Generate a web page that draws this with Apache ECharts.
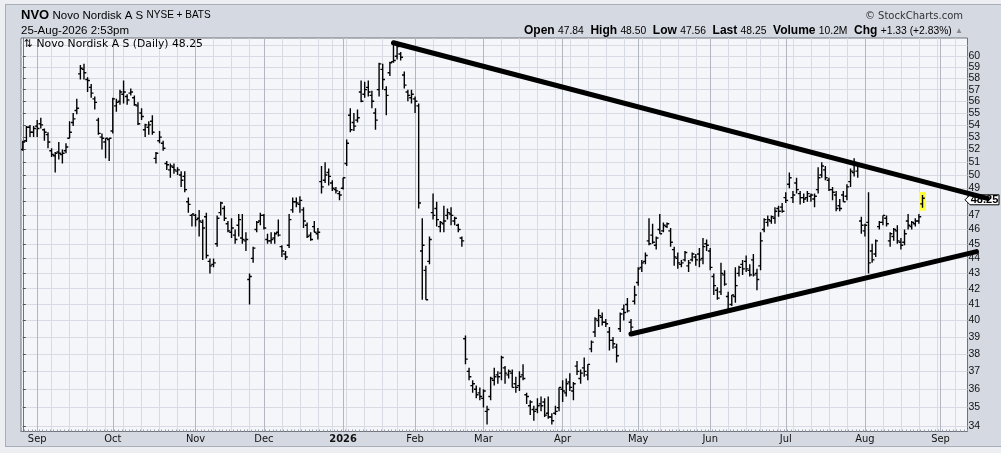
<!DOCTYPE html>
<html><head><meta charset="utf-8">
<script src="https://cdn.jsdelivr.net/npm/echarts@6/dist/echarts.min.js"></script>
<style>
html,body{margin:0;padding:0;background:#eceef2;overflow:hidden;}
#panel{position:absolute;left:5px;top:4px;width:996px;height:443px;background:#d5d9e2;border-left:1px solid #a9aeb9;border-top:1px solid #a9aeb9;border-bottom:1px solid #a9aeb9;box-sizing:border-box;}
#c{position:absolute;left:0;top:0;width:1001px;height:453px;}
</style>
</head><body><div id="panel"></div><div id="c"></div>
<script>
// ---------- data ----------
const START_DATE = '2025-08-26';
const HOLIDAYS = ['2025-09-01','2025-11-27','2025-12-25','2026-01-01','2026-01-19','2026-02-16','2026-04-03','2026-05-25','2026-06-19','2026-07-03','2026-09-07'];
const TOTAL_SLOTS = 263;
const MONTHS = ['Jan','Feb','Mar','Apr','May','Jun','Jul','Aug','Sep','Oct','Nov','Dec'];
const Y_TICKS = [34,35,36,37,38,39,40,41,42,43,44,45,46,47,48,49,50,51,52,53,54,55,56,57,58,59,60,61];
const Y_MIN = 33.74, Y_MAX = 61.7;

const opens = [
52.0,52.7,53.8,53.4,53.9,54.1,53.6,53.2,51.9,51.5,51.8,51.6,51.9,52.9,54.2,55.2,58.4,58.8,57.9,57.2,56.2,54.4,53.0,52.6,52.8,53.5,55.6,56.0,56.6,56.4,56.7,56.3,55.6,55.0,53.6,53.8,54.3,51.3,52.7,52.5,50.9,50.4,50.6,50.3,50.0,49.9,48.0,47.0,
47.0,46.8,46.5,46.9,43.8,43.6,45.0,47.2,47.5,46.4,45.8,45.6,46.3,45.4,45.2,42.6,44.0,46.0,46.6,47.0,45.3,45.2,45.4,45.8,44.8,44.3,44.9,47.4,48.0,47.8,47.4,46.3,45.6,46.2,45.7,49.5,49.6,50.2,49.4,48.9,48.6,49.0,
50.9,54.8,54.2,54.4,56.8,56.6,57.2,56.5,55.0,57.0,58.8,57.0,58.5,59.5,60.0,60.2,58.3,56.8,56.3,56.2,55.6,44.5,43.2,43.8,47.2,47.5,46.2,46.4,47.0,47.1,46.6,46.3,45.4,
38.9,37.0,36.2,36.0,35.8,35.5,34.8,35.6,36.5,36.8,36.9,37.2,36.8,36.9,36.3,36.2,36.8,35.7,35.1,34.9,34.9,35.2,35.3,34.7,34.5,34.7,35.0,36.0,35.8,36.4,35.9,37.3,36.6,37.2,36.8,38.3,39.3,40.0,40.2,39.9,39.3,38.8,38.4,39.5,40.7,41.0,
39.9,41.2,42.4,43.4,43.8,45.2,45.6,44.9,46.0,45.9,46.2,45.9,44.6,44.0,43.6,43.9,43.5,43.9,44.1,44.3,44.0,45.0,44.5,42.8,41.9,41.8,42.9,41.5,41.0,41.5,43.0,43.6,43.8,43.2,43.9,43.0,43.5,46.0,46.5,46.6,46.8,47.5,47.6,48.3,
49.3,48.3,49.4,48.6,48.3,48.3,48.4,48.2,48.9,50.0,50.4,49.6,48.9,48.5,47.7,48.5,48.4,49.5,50.2,50.3,46.6,45.9,46.5,44.5,44.3,46.2,46.5,46.8,45.2,45.5,45.9,45.1,45.1,46.6,46.2,46.4,46.6,47.84
];
const highs = [
52.7,53.9,54.0,53.9,54.4,54.6,53.7,53.4,52.1,51.8,52.6,52.0,52.5,54.3,55.0,56.2,59.2,59.3,58.1,57.5,56.4,54.6,53.3,52.9,52.9,56.3,56.2,57.0,57.8,56.6,57.1,56.5,55.9,55.4,54.1,54.3,54.8,51.8,53.5,52.7,51.1,50.9,50.9,50.6,50.3,50.3,48.3,47.1,
47.1,47.4,46.7,47.2,44.0,44.0,47.0,48.0,47.7,46.6,46.8,46.0,47.1,47.1,45.8,43.0,44.8,46.6,47.2,47.1,45.7,45.8,45.8,46.7,44.9,44.5,47.1,48.3,48.3,48.4,47.6,46.5,45.8,46.6,46.1,50.7,51.0,50.5,49.6,49.1,48.8,49.8,
52.8,55.4,55.0,55.3,57.8,57.7,57.8,56.9,55.4,59.4,59.3,57.3,59.5,61.2,61.0,60.4,58.6,57.0,57.0,56.4,55.8,46.8,43.5,45.5,48.6,48.0,46.6,47.7,47.5,47.6,46.9,46.4,45.5,
39.1,37.2,36.5,36.2,36.1,36.0,35.1,36.7,37.2,37.0,37.9,37.3,37.1,37.1,36.7,37.0,37.4,35.8,35.4,35.1,35.5,35.6,35.5,35.6,34.7,35.1,36.1,36.5,36.6,36.9,36.4,37.6,37.1,37.8,37.4,38.8,40.2,40.7,40.5,40.1,39.6,39.0,38.6,40.5,41.0,41.4,
40.1,42.2,43.4,43.9,44.4,46.8,46.4,45.5,47.1,46.5,46.5,46.1,44.8,44.4,43.9,44.5,43.9,44.4,44.3,44.7,45.4,45.3,44.7,43.0,42.1,43.7,43.2,41.8,41.6,43.4,43.5,43.9,44.2,43.6,44.3,43.3,45.8,46.8,47.0,47.0,47.6,47.7,47.9,48.7,
50.2,48.8,49.8,48.8,48.6,48.8,48.6,48.6,50.6,51.0,50.7,49.8,49.1,48.8,48.2,48.8,49.3,50.5,51.3,50.8,46.9,46.4,48.7,45.0,45.3,46.6,47.0,47.0,45.8,46.1,46.3,45.4,46.0,47.1,46.6,46.8,47.1,48.50
];
const lows = [
51.9,52.6,53.0,53.0,53.0,53.7,52.7,52.1,51.4,50.2,51.2,50.9,51.7,52.9,53.9,54.9,57.9,57.9,56.8,56.3,55.3,53.2,52.0,51.3,51.1,53.3,55.1,55.7,55.8,55.7,56.5,55.6,54.0,54.4,53.0,53.2,53.2,50.9,52.5,51.9,50.4,49.8,50.1,50.0,49.1,48.7,47.2,46.2,
46.2,45.5,43.9,44.0,43.0,43.4,44.8,47.0,46.6,45.8,45.4,45.0,45.5,45.0,44.5,41.0,43.7,45.8,46.3,46.0,45.0,45.0,45.0,45.5,44.1,43.9,44.7,47.2,47.6,47.2,46.1,45.4,45.2,45.8,45.3,48.6,49.4,49.2,48.8,48.6,48.1,48.9,
50.7,53.4,53.5,54.2,55.9,56.3,56.4,55.4,53.6,56.4,57.0,54.8,58.2,59.4,59.7,59.6,57.1,56.0,55.8,55.0,47.5,41.3,41.3,43.6,46.7,46.2,45.8,45.8,46.7,46.3,46.3,45.8,44.8,
37.4,36.5,35.8,35.5,35.4,35.0,34.1,35.4,36.2,36.3,36.5,36.3,36.6,36.1,35.8,35.9,36.5,35.2,34.6,34.3,34.7,34.8,34.5,34.4,34.1,34.6,34.8,35.3,35.6,35.9,35.4,36.8,36.3,36.7,36.5,38.1,39.0,39.6,39.7,39.6,38.2,38.3,37.5,39.3,40.0,40.5,
39.1,41.0,42.2,43.1,43.6,44.9,45.0,44.6,45.7,45.8,46.1,44.8,43.5,43.3,43.4,43.8,43.1,43.8,43.5,43.4,43.6,44.5,43.2,41.6,41.3,41.6,42.2,40.6,40.9,41.1,42.8,42.9,43.1,42.8,42.8,41.9,43.2,45.8,46.2,46.4,46.4,46.9,47.2,47.9,
49.0,47.9,48.6,47.8,47.9,48.0,48.0,47.6,48.6,49.8,49.6,48.8,48.1,47.3,47.3,48.0,48.1,49.1,49.9,49.8,45.7,45.5,43.0,43.7,44.1,46.0,46.3,46.2,44.8,45.2,45.0,44.6,44.9,46.0,46.0,46.2,46.4,47.56
];
const closes = [
52.6,53.8,53.4,53.7,53.7,54.0,53.4,52.6,51.6,51.7,51.7,51.7,52.2,53.4,54.5,55.4,58.9,58.5,57.8,56.7,55.9,53.3,52.9,52.9,52.9,56.2,55.9,56.8,56.8,56.1,56.8,55.7,54.1,54.7,54.0,54.0,53.4,51.7,53.0,52.1,50.8,50.7,50.4,50.4,49.6,48.9,47.8,47.1,
46.7,46.6,46.1,44.2,43.5,43.7,46.8,47.9,46.8,45.9,46.1,45.3,46.7,45.3,45.3,42.8,44.7,46.5,47.0,46.1,45.2,45.3,45.7,45.6,44.5,44.1,46.7,48.0,47.9,48.1,46.6,45.5,45.3,45.8,45.8,49.1,50.0,49.9,49.0,48.8,48.5,49.8,
52.5,53.6,53.9,54.6,56.0,57.0,56.8,56.0,54.4,59.3,57.9,56.5,59.4,59.6,60.9,59.9,57.4,56.5,56.6,56.0,47.9,44.9,41.3,45.3,47.0,46.7,46.5,46.6,47.2,47.0,46.8,46.0,45.2,
37.7,36.7,36.3,35.7,35.6,35.9,34.9,36.6,36.7,36.7,37.8,36.9,37.0,36.1,36.1,36.7,36.6,35.6,35.3,34.8,35.1,35.1,34.6,34.5,34.3,34.8,36.1,35.9,36.3,36.1,36.3,37.0,36.9,37.0,37.4,38.7,40.1,40.3,39.9,39.8,38.8,38.6,37.9,40.4,40.5,40.6,
39.6,41.6,43.3,43.7,44.2,45.0,45.1,45.4,45.7,46.3,46.4,45.1,44.1,43.7,43.7,44.4,43.7,44.3,43.9,43.9,44.8,44.9,43.4,42.2,41.4,43.0,42.3,40.7,41.6,42.2,43.4,43.3,43.3,42.9,42.9,42.6,45.2,46.7,46.7,46.9,47.3,47.3,47.3,48.1,
49.8,48.5,48.9,48.3,48.2,48.6,48.5,48.4,49.8,50.7,49.8,48.9,48.7,47.5,47.5,48.0,49.1,50.3,50.9,50.7,46.3,46.3,43.7,43.9,45.2,46.5,47.0,46.4,45.7,46.0,45.2,44.9,45.7,46.3,46.5,46.6,46.9,48.25
];
// trend lines drawn on the chart: [start bar index, start price, end bar index, end price]
const trendLines = [
  [103, 61.25, 268, 48.24],
  [169, 39.18, 265, 44.46]
];

const HEADER_LEFT = {sym:'NVO', name:'Novo Nordisk A S', exch:'NYSE + BATS', stamp:'25-Aug-2026 2:53pm'};
const QUOTE = {open:'47.84', high:'48.50', low:'47.56', last:'48.25', volume:'10.2M', chg:'+1.33 (+2.83%)'};
const LEGEND_TEXT = '⇅ Novo Nordisk A S (Daily) 48.25';
const LAST_PRICE = 48.25;

// ---------- trading-day categories ----------
function pad(n){return (n<10?'0':'')+n;}
const dates = [];
(function(){
  const hol = new Set(HOLIDAYS);
  let d = new Date(START_DATE + 'T00:00:00Z');
  while (dates.length < TOTAL_SLOTS) {
    const wd = d.getUTCDay();
    const s = d.getUTCFullYear() + '-' + pad(d.getUTCMonth()+1) + '-' + pad(d.getUTCDate());
    if (wd !== 0 && wd !== 6 && !hol.has(s)) dates.push(s);
    d = new Date(d.getTime() + 86400000);
  }
})();
const monthStart = dates.map((s,i)=> i>0 && s.slice(5,7)!==dates[i-1].slice(5,7));
const weekStart = dates.map((s,i)=>{
  if (i===0) return false;
  const a = new Date(s+'T00:00:00Z'), b = new Date(dates[i-1]+'T00:00:00Z');
  return a.getUTCDay() < b.getUTCDay() || (a-b) > 3*86400000;
});
const ohlc = opens.map((o,i)=>[i, o, highs[i], lows[i], closes[i]]);
const LAST = ohlc.length - 1;

const FONT = "'Liberation Sans', Arial, sans-serif";
const NARROW = "'Liberation Sans Narrow','DejaVu Sans Condensed','Liberation Sans',sans-serif";

const chart = echarts.init(document.getElementById('c'), null, {renderer:'canvas'});

function headerGraphics(){
  return [
    {id:'hl', type:'text', left: 21, top: 9, style:{
      text: '{b|'+HEADER_LEFT.sym+'} {n|'+HEADER_LEFT.name+'} {s|'+HEADER_LEFT.exch+'}',
      rich:{b:{fontFamily:FONT, fontWeight:'bold', fontSize:13, fill:'#000'}, n:{fontFamily:FONT, fontSize:11.5, fill:'#000'}, s:{fontFamily:FONT, fontSize:10, fill:'#000'}}
    }},
    {id:'ts', type:'text', left: 21, top: 25, style:{text: HEADER_LEFT.stamp, fontFamily:FONT, fontSize:11.5, fill:'#000'}},
    {id:'sc', type:'text', right: 38, top: 11, style:{text:'© StockCharts.com', fontFamily:"'DejaVu Sans',sans-serif", fontSize:10, fill:'#333'}},
    {id:'q', type:'text', right: 38, top: 25, style:{
      text: '{b|Open} {v|'+QUOTE.open+'}  {b|High} {v|'+QUOTE.high+'}  {b|Low} {v|'+QUOTE.low+'}  {b|Last} {v|'+QUOTE.last+'}  {b|Volume} {v|'+QUOTE.volume+'}  {b|Chg} {v|'+QUOTE.chg+'} {a|▲}',
      rich:{b:{fontFamily:FONT, fontWeight:'bold', fontSize:12, fill:'#000'}, v:{fontFamily:FONT, fontSize:10.3, fill:'#000'}, a:{fontFamily:FONT, fontSize:8, fill:'#888'}}
    }},
    {id:'lg', type:'text', left: 24, top: 39, z: 10, style:{text: LEGEND_TEXT, fontFamily:"'DejaVu Sans',sans-serif", fontSize:10.8, fill:'#000'}}
  ];
}

const option = {
  animation: false,
  backgroundColor: 'transparent',
  grid: {left: 21, right: 33.5, top: 38, bottom: 21.5, show: true, backgroundColor: '#f4f6fa', borderColor: '#6f737c', borderWidth: 1},
  xAxis: [{
    type: 'category', data: dates, boundaryGap: true,
    axisLine: {show: true, lineStyle: {color: '#6f737c'}},
    axisTick: {show: true, inside: true, length: 2, interval: 0, lineStyle: {color: '#9a9ea8'}},
    axisLabel: {
      interval: (i)=>monthStart[i], margin: 2, color: '#111', fontFamily: NARROW, fontSize: 11,
      formatter: (v)=>{ const m = +v.slice(5,7)-1; return m===0 ? '{y|'+v.slice(0,4)+'}' : MONTHS[m]; },
      rich: {y: {fontWeight: 'bold', fontFamily: NARROW, fontSize: 11, color: '#111'}}
    },
    splitLine: {show: true, interval: (i)=>monthStart[i], alignWithLabel: true, lineStyle: {color: '#b3b7c2', width: 1}}
  }, {
    type: 'category', data: dates, boundaryGap: true, position: 'bottom',
    axisLine: {show: false}, axisTick: {show: false}, axisLabel: {show: false},
    splitLine: {show: true, interval: (i)=>weekStart[i] && !monthStart[i], alignWithLabel: true, lineStyle: {color: '#d8dbe3', width: 1}}
  }, {
    // invisible numeric twin of the bar axis, used by the trend lines
    type: 'value', min: -0.5, max: TOTAL_SLOTS - 0.5, show: false, position: 'bottom'
  }],
  yAxis: {
    type: 'log', logBase: 10, min: Y_MIN, max: Y_MAX, position: 'right',
    axisLine: {show: true, lineStyle: {color: '#6f737c'}},
    axisTick: {show: true, length: 3, customValues: Y_TICKS, lineStyle: {color: '#555'}},
    axisLabel: {customValues: Y_TICKS, margin: 1, color: '#111', fontFamily: FONT, fontSize: 10.5, formatter: (v)=>String(Math.round(v))},
    splitLine: {show: true, lineStyle: {color: '#d8dbe3', width: 1}},
    minorTick: {show: false}
  },
  series: [{
    type: 'custom', xAxisIndex: 0, yAxisIndex: 0,
    dimensions: ['idx','open','high','low','close'],
    encode: {x: 0, y: [1,2,3,4]},
    data: ohlc, clip: true, z: 3,
    renderItem: function(params, api){
      const i = api.value(0);
      const pO = api.coord([i, api.value(1)]);
      const pH = api.coord([i, api.value(2)]);
      const pL = api.coord([i, api.value(3)]);
      const pC = api.coord([i, api.value(4)]);
      const x = pH[0];
      const kids = [];
      if (params.dataIndex === LAST) {
        kids.push({type:'rect', shape:{x:x-3.5, y:pH[1]-3, width:7, height:(pL[1]-pH[1])+6}, style:{fill:'#ffff3a'}});
      }
      const st = {stroke:'#000', lineWidth:1.4};
      kids.push({type:'line', shape:{x1:x, y1:pH[1], x2:x, y2:pL[1]}, style:st});
      kids.push({type:'line', shape:{x1:x-2.3, y1:pO[1], x2:x, y2:pO[1]}, style:st});
      kids.push({type:'line', shape:{x1:x, y1:pC[1], x2:x+2.3, y2:pC[1]}, style:st});
      return {type:'group', children: kids};
    }
  }, {
    type: 'custom', xAxisIndex: 2, yAxisIndex: 0, clip: false, z: 30,
    dimensions: ['x1','y1','x2','y2'],
    encode: {x: [0, 2], y: [1, 3]},
    data: trendLines,
    renderItem: function(params, api){
      const a = api.coord([api.value(0), api.value(1)]);
      const b = api.coord([api.value(2), api.value(3)]);
      return {type:'line', shape:{x1:a[0], y1:a[1], x2:b[0], y2:b[1]}, style:{stroke:'#000', lineWidth:5, lineCap:'round'}};
    }
  }],
  graphic: headerGraphics()
};
chart.setOption(option);
let ty = chart.convertToPixel({yAxisIndex: 0}, LAST_PRICE);
if (Array.isArray(ty)) ty = ty[1];
if (isFinite(ty)) {
  option.graphic = headerGraphics().concat([
    {id:'tagbox', type:'polygon', z: 20, shape:{points:[[965,ty+1.5],[970,ty-3.5],[999,ty-3.5],[999,ty+6.5],[970,ty+6.5]]}, style:{fill:'#fff', stroke:'#000', lineWidth:1}},
    {id:'tagtxt', type:'text', z: 21, x: 984.5, y: ty+1.8, style:{text: LAST_PRICE.toFixed(2), fontFamily:FONT, fontWeight:'bold', fontSize:11, fill:'#000', align:'center', verticalAlign:'middle'}}
  ]);
  chart.setOption(option, true);
}
</script>
</body></html>
